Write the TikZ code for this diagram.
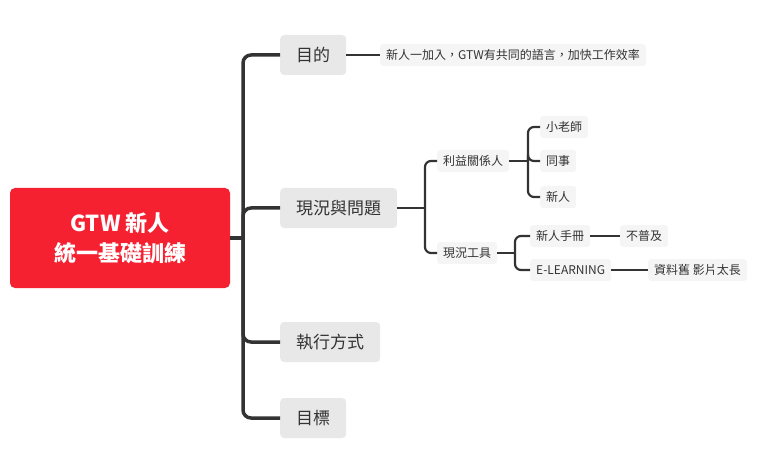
\documentclass[tikz,border=0pt]{standalone}
\usepackage{fontspec}
\setmainfont{Noto Sans CJK TC}
\usetikzlibrary{positioning}
\tikzset{
  topic/.style={fill=black!9, rounded corners=4pt, minimum height=40pt, inner xsep=16pt, font=\fontsize{17}{20}\selectfont, text=black!80},
  leaf/.style={fill=black!4, rounded corners=3pt, minimum height=22pt, inner xsep=6pt, font=\fontsize{12}{14}\selectfont, text=black!80},
  link/.style={draw=black!80, line width=3.5pt, rounded corners=8pt},
  sublink/.style={draw=black!80, line width=2.2pt, rounded corners=6pt}
}
\begin{document}
\begin{tikzpicture}[x=1pt,y=-1pt]
\useasboundingbox (0,0) rectangle (769,476);
% root
\node[fill=red!85!black!90, fill={rgb,255:red,245;green,32;blue,48}, rounded corners=5pt, minimum width=220pt, minimum height=100pt, text=white, align=center, font=\fontsize{22}{30}\selectfont\bfseries] (root) at (120,238) {GTW 新人\\統一基礎訓練};
% main topics
\node[topic, anchor=west] (goal) at (280,55) {目的};
\node[topic, anchor=west] (status) at (280,208) {現況與問題};
\node[topic, anchor=west] (exec) at (280,342) {執行方式};
\node[topic, anchor=west] (target) at (280,418) {目標};
\coordinate (hub) at (243,238);
\draw[link] (root.east) -- (hub);
\foreach \t in {goal,status,exec,target}
  \draw[link] (hub) |- (\t.west);
% goal
\node[leaf, anchor=west] (lang) at (380,55) {新人一加入，GTW有共同的語言，加快工作效率};
\draw[sublink] (goal.east) -- (lang.west);
% status
\node[leaf, anchor=west] (stake) at (437,161) {利益關係人};
\node[leaf, anchor=west] (tools) at (437,253) {現況工具};
\coordinate (hubs) at (425,208);
\draw[sublink] (status.east) -- (hubs);
\foreach \t in {stake,tools}
  \draw[sublink] (hubs) |- (\t.west);
% stakeholders
\node[leaf, anchor=west] (mentor) at (540,127) {小老師};
\node[leaf, anchor=west] (peer) at (540,161) {同事};
\node[leaf, anchor=west] (newbie) at (540,197) {新人};
\coordinate (hubk) at (528,161);
\draw[sublink] (stake.east) -- (hubk);
\foreach \t in {mentor,peer,newbie}
  \draw[sublink] (hubk) |- (\t.west);
% tools
\node[leaf, anchor=west] (manual) at (530,236) {新人手冊};
\node[leaf, anchor=west] (elearn) at (530,270) {E-LEARNING};
\coordinate (hubt) at (515,253);
\draw[sublink] (tools.east) -- (hubt);
\foreach \t in {manual,elearn}
  \draw[sublink] (hubt) |- (\t.west);
\node[leaf, anchor=west] (rare) at (620,236) {不普及};
\node[leaf, anchor=west] (old) at (648,270) {資料舊 影片太長};
\draw[sublink] (manual.east) -- (rare.west);
\draw[sublink] (elearn.east) -- (old.west);
\end{tikzpicture}
\end{document}
